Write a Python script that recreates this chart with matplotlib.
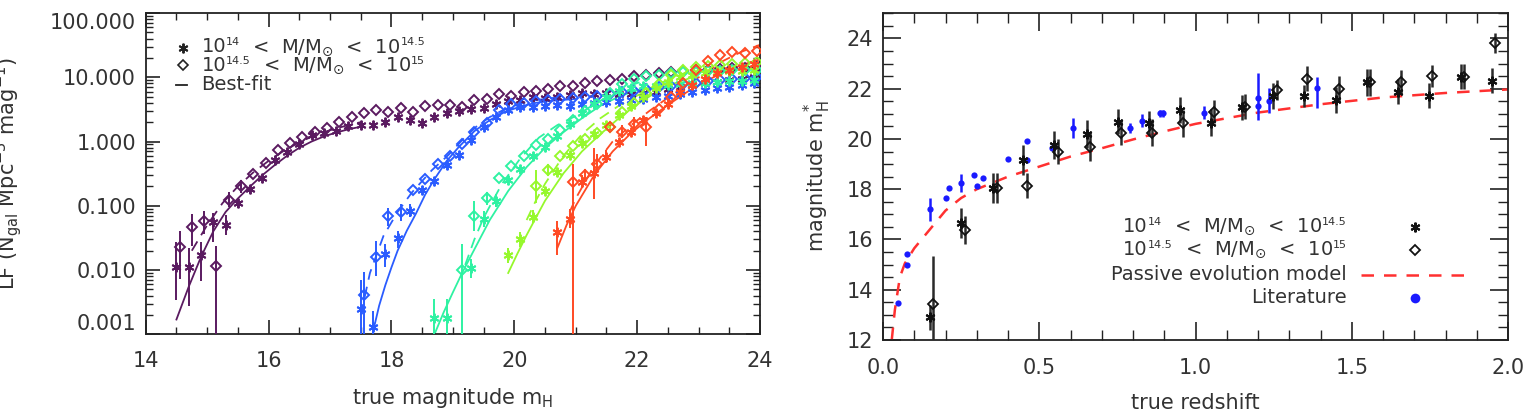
import numpy as np
import matplotlib.pyplot as plt
from matplotlib.ticker import MultipleLocator, FixedLocator, FixedFormatter
from matplotlib.offsetbox import TextArea, HPacker, AnnotationBbox

plt.rcParams['font.family'] = ['DejaVu Sans']
plt.rcParams['mathtext.fontset'] = 'dejavusans'

TXT = '#333333'

# ---------------- left panel: luminosity functions ----------------
# colours of the five redshift bins
PURPLE, BLUE, CYAN, GREEN, RED = '#5a1a60', '#2a5cff', '#2ef2a2', '#96f82c', '#ff4a24'

# purple bin
P_AST_M = [14.5, 14.7, 14.9, 15.1, 15.3, 15.5, 15.7, 15.9, 16.1, 16.3, 16.5, 16.7, 16.9, 17.1, 17.3, 17.5,
           17.7, 17.9, 18.1, 18.3, 18.5, 18.7, 18.9, 19.1, 19.3, 19.5, 19.7, 19.9, 20.1, 20.3, 20.5, 20.7,
           20.9, 21.1, 21.3, 21.5, 21.7, 21.9, 22.1, 22.3, 22.5, 22.7, 22.9, 23.1, 23.3, 23.5, 23.7, 23.9]
P_AST_V = [0.011, 0.011, 0.017, 0.055, 0.050, 0.11, 0.18, 0.27, 0.52, 0.68, 0.90, 1.25, 1.35, 1.45, 1.75, 1.8,
           1.8, 2.0, 2.4, 2.2, 1.95, 2.4, 2.8, 3.0, 3.2, 3.3, 3.9, 4.3, 4.5, 5.0, 4.8, 5.0,
           5.3, 5.6, 5.4, 5.6, 5.5, 5.4, 5.7, 6.0, 6.5, 7.0, 7.5, 8.0, 8.5, 9.0, 9.5, 10.0]
P_AST_ELO = [0.5, 0.6, 0.4, 0.3, 0.15, 0.08, 0.06]
P_AST_EHI = [0.4, 0.3, 0.2, 0.15, 0.15, 0.08, 0.06]
P_DIA_M = [14.55, 14.75, 14.95, 15.15, 15.35, 15.55, 15.75, 15.95, 16.15, 16.35, 16.55, 16.75, 16.95, 17.15,
           17.35, 17.55, 17.75, 17.95, 18.15, 18.35, 18.55, 18.75, 18.95, 19.15, 19.35, 19.55, 19.75, 19.95,
           20.15, 20.35, 20.55, 20.75, 20.95, 21.15, 21.35, 21.55, 21.75, 21.95, 22.15, 22.35, 22.55, 22.75,
           22.95, 23.15, 23.35, 23.55, 23.75, 23.95]
P_DIA_V = [0.023, 0.047, 0.058, 0.0115, 0.125, 0.2, 0.31, 0.46, 0.75, 0.95, 1.16, 1.41, 1.6, 2.0,
           2.4, 2.75, 3.05, 2.9, 3.35, 2.9, 3.6, 3.7, 3.7, 3.5, 4.5, 4.6, 5.5, 5.1,
           5.9, 6.2, 6.6, 7.2, 7.3, 8.1, 8.9, 9.2, 9.5, 10.3, 10.7, 11.5, 12.0, 12.5,
           13.0, 13.0, 13.5, 14.0, 14.0, 14.5]
P_DIA_ELO = [0.5, 0.3, 0.2, 3.0, 0.12, 0.1]
P_DIA_EHI = [0.25, 0.2, 0.15, 0.32, 0.12, 0.1]
P_FIT_M = [14.5, 14.7, 14.9, 15.1, 15.3, 15.5, 15.7, 15.9, 16.1, 16.3, 16.5, 16.7, 16.9, 17.1, 17.3, 17.5]
P_FIT_V = [0.0017, 0.0055, 0.016, 0.04, 0.08, 0.13, 0.2, 0.3, 0.43, 0.6, 0.8, 1.0, 1.2, 1.38, 1.55, 1.7]
P_DFIT_M = [14.75, 15.0, 15.25, 15.5, 15.75, 16.0, 16.25, 16.5, 16.75, 17.0, 17.25, 17.5]
P_DFIT_V = [0.02, 0.05, 0.11, 0.2, 0.33, 0.5, 0.72, 0.97, 1.25, 1.5, 1.75, 2.0]

# blue bin
B_AST_M = [17.5, 17.7, 17.9, 18.1, 18.3, 18.5, 18.7, 18.9, 19.1, 19.3, 19.5, 19.7, 19.9, 20.1, 20.3, 20.5, 20.7,
           20.9, 21.1, 21.3, 21.5, 21.7, 21.9, 22.1, 22.3, 22.5, 22.7, 22.9, 23.1, 23.3, 23.5, 23.7, 23.9]
B_AST_V = [0.0025, 0.0013, 0.018, 0.031, 0.084, 0.175, 0.24, 0.43, 0.61, 1.05, 1.7, 2.4, 3.1, 3.4, 3.5, 3.6, 3.7,
           3.6, 3.8, 4.0, 4.1, 4.2, 4.4, 4.6, 4.9, 5.2, 5.5, 5.9, 6.3, 6.7, 7.1, 7.5, 8.0]
B_AST_ELO = [3.0, 3.0, 0.2, 0.15, 0.1]
B_AST_EHI = [0.45, 0.25, 0.15, 0.12, 0.1]
B_DIA_M = [17.55, 17.75, 17.95, 18.15, 18.35, 18.55, 18.75, 18.95, 19.15, 19.35, 19.55, 19.75, 19.95, 20.15,
           20.35, 20.55, 20.75, 20.95, 21.15, 21.35, 21.55, 21.75, 21.95, 22.15, 22.35, 22.55, 22.75, 22.95,
           23.15, 23.35, 23.55, 23.75, 23.95]
B_DIA_V = [0.0041, 0.016, 0.069, 0.081, 0.175, 0.26, 0.44, 0.6, 0.9, 1.4, 1.95, 3.1, 3.9, 4.0,
           4.3, 4.5, 4.6, 4.7, 4.9, 5.1, 5.5, 5.8, 6.1, 6.5, 7.0, 7.4, 7.8, 8.2,
           8.6, 9.0, 9.3, 9.6, 10.0]
B_DIA_ELO = [3.0, 0.3, 0.15, 0.15]
B_DIA_EHI = [0.35, 0.25, 0.12, 0.12]
B_FIT_M = [17.7, 17.8, 17.9, 18.0, 18.1, 18.25, 18.4, 18.55, 18.7, 18.9, 19.1, 19.35, 19.6, 19.85, 20.1, 20.35,
           20.6, 21.0]
B_FIT_V = [0.0011, 0.0028, 0.0058, 0.011, 0.02, 0.041, 0.076, 0.15, 0.26, 0.5, 0.83, 1.45, 2.15, 2.9, 3.5, 4.0,
           4.3, 4.6]
B_DFIT_M = [17.5, 17.65, 17.87, 18.1, 18.33, 18.66, 18.93, 19.15, 19.38, 19.6, 19.82, 20.1, 20.35, 20.8]
B_DFIT_V = [0.002, 0.009, 0.034, 0.08, 0.16, 0.36, 0.62, 1.05, 1.7, 2.4, 3.1, 3.9, 4.4, 5.0]

# cyan bin
C_AST_M = [18.7, 18.9, 19.3, 19.5, 19.7, 19.9, 20.1, 20.3, 20.5, 20.7, 20.9, 21.1, 21.3, 21.5, 21.7, 21.9,
           22.1, 22.3, 22.5, 22.7, 22.9, 23.1, 23.3, 23.5, 23.7, 23.9]
C_AST_V = [0.0018, 0.0018, 0.0106, 0.062, 0.12, 0.25, 0.38, 0.6, 0.82, 1.2, 1.9, 2.8, 3.8, 5.0, 6.2, 6.8,
           7.2, 7.4, 7.6, 7.8, 8.0, 8.2, 8.4, 8.6, 8.9, 9.2]
C_AST_ELO = [3.0, 3.0, 0.15, 0.12, 0.1]
C_AST_EHI = [0.3, 0.3, 0.15, 0.12, 0.1]
C_DIA_M = [19.15, 19.35, 19.55, 19.75, 19.95, 20.15, 20.35, 20.55, 20.75, 20.95, 21.15, 21.35, 21.55, 21.75,
           21.95, 22.15, 22.35, 22.55, 22.75, 22.95, 23.15, 23.35, 23.55, 23.75, 23.95]
C_DIA_V = [0.010, 0.07, 0.13, 0.27, 0.41, 0.59, 0.87, 1.1, 1.5, 2.2, 3.0, 3.8, 5.6, 7.9,
           9.5, 10.5, 11.0, 11.5, 12.0, 12.0, 12.3, 12.5, 12.8, 13.0, 13.0]
C_DIA_ELO = [3.0, 0.23, 0.1]
C_DIA_EHI = [0.4, 0.23, 0.1]
C_FIT_M = [18.7, 18.85, 19.0, 19.15, 19.3, 19.45, 19.6, 19.9, 20.2, 20.5, 20.8, 21.1, 21.4, 21.7, 22.0, 22.3]
C_FIT_V = [0.001, 0.0022, 0.0045, 0.009, 0.017, 0.032, 0.06, 0.17, 0.4, 0.8, 1.4, 2.3, 3.6, 5.0, 6.3, 7.0]
C_DFIT_M = [19.2, 19.35, 19.5, 19.65, 19.8, 20.1, 20.4, 20.7, 21.0, 21.3, 21.6, 21.9, 22.2]
C_DFIT_V = [0.012, 0.03, 0.065, 0.12, 0.22, 0.55, 1.15, 1.8, 2.5, 3.8, 5.5, 7.5, 9.5]

# green bin
G_AST_M = [19.9, 20.1, 20.3, 20.5, 20.7, 20.9, 21.1, 21.3, 21.5, 21.7, 21.9, 22.1, 22.3, 22.5, 22.7, 22.9,
           23.1, 23.3, 23.5, 23.7, 23.9]
G_AST_V = [0.017, 0.030, 0.068, 0.17, 0.33, 0.62, 0.95, 1.3, 1.8, 2.6, 3.6, 5.0, 6.8, 8.5, 10.0, 11.0,
           11.5, 12.0, 12.3, 12.6, 13.0]
G_AST_ELO = [0.12, 0.12, 0.1]
G_AST_EHI = [0.12, 0.12, 0.1]
G_DIA_M = [20.35, 20.55, 20.75, 20.95, 21.15, 21.35, 21.55, 21.75, 21.95, 22.15, 22.35, 22.55, 22.75, 22.95,
           23.15, 23.35, 23.55, 23.75, 23.95]
G_DIA_V = [0.2, 0.36, 0.59, 0.85, 1.1, 1.35, 1.7, 2.9, 4.0, 5.6, 7.9, 11.0, 13.0, 14.5,
           15.0, 15.5, 16.0, 16.5, 17.0]
G_DIA_ELO = [0.25, 0.1]
G_DIA_EHI = [0.25, 0.1]
G_FIT_M = [19.9, 20.05, 20.2, 20.35, 20.5, 20.8, 21.1, 21.4, 21.7, 22.0, 22.3, 22.6, 22.9]
G_FIT_V = [0.009, 0.018, 0.035, 0.065, 0.12, 0.32, 0.7, 1.3, 2.3, 3.8, 5.8, 8.0, 10.0]
G_DFIT_M = [20.2, 20.35, 20.5, 20.8, 21.1, 21.4, 21.7, 22.0, 22.3, 22.6, 22.9]
G_DFIT_V = [0.06, 0.12, 0.22, 0.6, 1.3, 2.3, 3.6, 5.2, 7.5, 10.0, 13.0]

# red bin
R_AST_M = [20.7, 20.9, 21.1, 21.3, 21.5, 21.7, 21.9, 22.1, 22.3, 22.5, 22.7, 22.9, 23.1, 23.3, 23.5, 23.7, 23.9]
R_AST_V = [0.039, 0.063, 0.236, 0.32, 0.58, 1.0, 1.43, 2.15, 2.75, 3.9, 5.9, 7.5, 9.5, 11.5, 13.0, 14.5, 16.0]
R_AST_ELO = [0.36, 0.15, 0.1, 0.4, 0.1]
R_AST_EHI = [0.18, 0.15, 0.1, 0.4, 0.1]
R_DIA_M = [20.95, 21.15, 21.35, 21.55, 21.75, 21.95, 22.15, 22.35, 22.55, 22.75, 22.95, 23.15, 23.35, 23.55,
           23.75, 23.95]
R_DIA_V = [0.236, 0.30, 0.45, 1.7, 1.43, 1.9, 1.7, 3.2, 5.0, 8.0, 13.0, 18.0, 22.0, 25.0, 24.0, 26.0]
R_DIA_ELO = [3.0, 0.1, 0.15, 0.05, 0.1, 0.1, 0.3]
R_DIA_EHI = [0.28, 0.1, 0.15, 0.05, 0.1, 0.1, 0.15]
R_FIT_M = [20.7, 20.85, 21.0, 21.3, 21.6, 21.9, 22.2, 22.5, 22.8, 23.1, 23.4, 23.7, 24.0]
R_FIT_V = [0.022, 0.05, 0.1, 0.3, 0.7, 1.35, 2.3, 3.7, 5.8, 8.5, 12.0, 15.5, 19.0]
R_DFIT_M = [20.9, 21.0, 21.3, 21.6, 21.9, 22.2, 22.5, 22.8, 23.1, 23.4, 23.7, 24.0]
R_DFIT_V = [0.08, 0.13, 0.42, 1.0, 1.8, 3.0, 4.8, 7.5, 11.5, 18.0, 25.0, 32.0]

LF_YTICKS = [0.001, 0.01, 0.1, 1.0, 10.0, 100.0]
LF_YLABELS = ['0.001', '0.010', '0.100', '1.000', '10.000', '100.000']

# ---------------- right panel: m* versus redshift ----------------
LOW_Z = [0.150, 0.250, 0.353, 0.449, 0.547, 0.652, 0.751, 0.850, 0.950, 1.050, 1.150, 1.249, 1.348, 1.449,
         1.548, 1.649, 1.748, 1.849, 1.948]
LOW_M = [12.90, 16.64, 18.04, 19.16, 19.76, 20.20, 20.69, 20.62, 21.15, 20.65, 21.26, 21.71, 21.71, 21.55,
         22.25, 21.88, 21.72, 22.48, 22.31]
LOW_E = [0.5, 0.6, 0.6, 0.6, 0.55, 0.55, 0.5, 0.5, 0.5, 0.55, 0.5, 0.5, 0.45, 0.5, 0.55, 0.5, 0.5, 0.5, 0.5]
HIGH_Z = [0.161, 0.262, 0.364, 0.460, 0.561, 0.662, 0.761, 0.861, 0.959, 1.059, 1.158, 1.260, 1.358, 1.459,
          1.558, 1.657, 1.758, 1.859, 1.958]
HIGH_M = [13.43, 16.38, 18.04, 18.14, 19.49, 19.69, 20.25, 20.25, 20.62, 21.08, 21.28, 21.95, 22.39, 21.99,
          22.25, 22.28, 22.50, 22.48, 23.83]
HIGH_E = [1.9, 0.55, 0.6, 0.5, 0.5, 0.55, 0.5, 0.55, 0.55, 0.45, 0.5, 0.4, 0.5, 0.5, 0.55, 0.45, 0.45, 0.5, 0.4]
LIT_Z = [0.049, 0.076, 0.076, 0.150, 0.200, 0.211, 0.250, 0.290, 0.300, 0.321, 0.399, 0.460, 0.460, 0.542,
         0.607, 0.790, 0.830, 0.887, 0.897, 1.028, 1.199, 1.199, 1.235, 1.388]
LIT_M = [13.46, 15.41, 14.98, 17.20, 17.66, 18.04, 18.24, 18.58, 18.11, 18.43, 19.21, 19.93, 19.16, 19.63,
         20.44, 20.44, 20.73, 21.02, 21.02, 21.05, 21.62, 21.31, 21.52, 22.02]
LIT_ELO = [0, 0, 0, 0.45, 0, 0, 0.35, 0, 0, 0, 0, 0, 0, 0,
           0.4, 0.2, 0.27, 0.15, 0.15, 0.25, 0.86, 0, 0.5, 0.8]
LIT_EHI = [0, 0, 0, 0.45, 0, 0, 0.35, 0, 0, 0, 0, 0, 0, 0,
           0.4, 0.2, 0.27, 0.15, 0.15, 0.25, 1.0, 0, 0.5, 0.46]
MODEL_Z = [0.028, 0.038, 0.054, 0.07, 0.1, 0.15, 0.2, 0.25, 0.3, 0.4, 0.5, 0.6, 0.7, 0.8, 0.9, 1.0,
           1.2, 1.4, 1.6, 1.8, 2.0]
MODEL_M = [12.0, 13.2, 14.5, 15.05, 15.65, 16.4, 17.15, 17.65, 18.0, 18.5, 18.9, 19.3, 19.63, 19.98, 20.3, 20.6,
           21.05, 21.38, 21.65, 21.83, 21.97]

AST = (6, 2, 0)   # IDL-like asterisk
LEG_FS, EXP_FS = 14, 8


def draw_points(ax, mags, vals, elo, ehi, color, marker, ms, mfc):
    mags = np.asarray(mags)
    vals = np.asarray(vals)
    n = len(elo)
    lo = vals[:n] * (1 - 10 ** -np.asarray(elo))
    hi = vals[:n] * (10 ** np.asarray(ehi) - 1)
    ax.errorbar(mags[:n], vals[:n], yerr=[lo, hi], fmt='none', ecolor=color, elinewidth=1.4,
                capsize=0, zorder=3)
    ax.plot(mags, vals, linestyle='none', marker=marker, ms=ms, mew=1.4, mec=color, mfc=mfc, zorder=4)


def style_axes(ax):
    for s in ax.spines.values():
        s.set_linewidth(1.3)
        s.set_color('#222222')
    ax.tick_params(which='both', direction='in', top=True, right=True, colors='#222222',
                   labelcolor=TXT, labelsize=15)
    ax.tick_params(which='major', length=10, width=1.2)
    ax.tick_params(which='minor', length=5, width=1.0)


def mass_label(ax, x, y, lo_exp, hi_exp, right=False):
    # IDL-style label with small exponents sitting at the top of the "10"
    parts = [('10', LEG_FS), (lo_exp, EXP_FS), ('  <  M/M$_{\\odot}$  <  10', LEG_FS), (hi_exp, EXP_FS)]
    kids = [TextArea(t, textprops=dict(fontsize=s, color=TXT)) for t, s in parts]
    box = HPacker(children=kids, align='top', pad=0, sep=0)
    ab = AnnotationBbox(box, (x, y), xycoords=ax.transAxes, box_alignment=(1.0 if right else 0.0, 0.5),
                        frameon=False, pad=0)
    ax.add_artist(ab)


fig = plt.figure(figsize=(15.29, 4.18), dpi=100)
ax1 = fig.add_axes([0.0953, 0.2002, 0.4018, 0.7687])
ax2 = fig.add_axes([0.5775, 0.1866, 0.4088, 0.7816])

groups = [
    (PURPLE, P_AST_M, P_AST_V, P_AST_ELO, P_AST_EHI, P_DIA_M, P_DIA_V, P_DIA_ELO, P_DIA_EHI,
     P_FIT_M, P_FIT_V, P_DFIT_M, P_DFIT_V),
    (BLUE, B_AST_M, B_AST_V, B_AST_ELO, B_AST_EHI, B_DIA_M, B_DIA_V, B_DIA_ELO, B_DIA_EHI,
     B_FIT_M, B_FIT_V, B_DFIT_M, B_DFIT_V),
    (CYAN, C_AST_M, C_AST_V, C_AST_ELO, C_AST_EHI, C_DIA_M, C_DIA_V, C_DIA_ELO, C_DIA_EHI,
     C_FIT_M, C_FIT_V, C_DFIT_M, C_DFIT_V),
    (GREEN, G_AST_M, G_AST_V, G_AST_ELO, G_AST_EHI, G_DIA_M, G_DIA_V, G_DIA_ELO, G_DIA_EHI,
     G_FIT_M, G_FIT_V, G_DFIT_M, G_DFIT_V),
    (RED, R_AST_M, R_AST_V, R_AST_ELO, R_AST_EHI, R_DIA_M, R_DIA_V, R_DIA_ELO, R_DIA_EHI,
     R_FIT_M, R_FIT_V, R_DFIT_M, R_DFIT_V),
]

for (col, am, av, aelo, aehi, dm, dv, delo, dehi, fm, fv, dfm, dfv) in groups:
    ax1.plot(fm, fv, color=col, lw=1.3, zorder=2)
    ax1.plot(dfm, dfv, color=col, lw=1.3, dashes=(6, 4), zorder=2)
    draw_points(ax1, dm, dv, delo, dehi, col, 'D', 5.5, 'none')
    draw_points(ax1, am, av, aelo, aehi, col, AST, 7, col)

ax1.set_yscale('log')
ax1.set_xlim(14, 24)
ax1.set_ylim(0.001, 100)
ax1.xaxis.set_major_locator(MultipleLocator(2))
ax1.xaxis.set_minor_locator(MultipleLocator(0.5))
ax1.yaxis.set_major_locator(FixedLocator(LF_YTICKS))
ax1.yaxis.set_major_formatter(FixedFormatter(LF_YLABELS))
style_axes(ax1)
ax1.tick_params(axis='x', pad=12)
ax1.tick_params(axis='y', pad=7)
ylabs = ax1.get_yticklabels()
ylabs[0].set_va('bottom')
ylabs[-1].set_va('top')
ax1.set_xlabel(r'true magnitude m$_{\rm H}$', fontsize=15, color=TXT, labelpad=11)
fig.text(0.0052, 0.585, r'LF (N$_{\rm gal}$ Mpc$^{-3}$ mag$^{-1}$)', rotation=90, ha='center', va='center',
         fontsize=15, color=TXT)

# legend of the left panel
tr = ax1.transAxes
ax1.plot([0.060], [0.892], marker=AST, ms=7, mew=1.4, color='#222222', transform=tr, clip_on=False)
ax1.plot([0.060], [0.838], marker='D', ms=5.5, mew=1.2, mfc='none', mec='#222222', transform=tr, clip_on=False)
ax1.plot([0.050, 0.068], [0.776, 0.776], color='#222222', lw=1.3, transform=tr)
mass_label(ax1, 0.091, 0.892, '14', '14.5')
mass_label(ax1, 0.091, 0.835, '14.5', '15')
ax1.text(0.091, 0.776, 'Best-fit', transform=tr, va='center', fontsize=LEG_FS, color=TXT)

# ---------------- right panel ----------------
ax2.plot(MODEL_Z, MODEL_M, color='#ff3030', lw=1.8, dashes=(5, 4), zorder=2)
ax2.errorbar(LIT_Z, LIT_M, yerr=[LIT_ELO, LIT_EHI], fmt='o', color='#1a1aff', ms=4.5, mew=0,
             elinewidth=1.8, capsize=0, zorder=3)
ax2.errorbar(LOW_Z, LOW_M, yerr=LOW_E, fmt='none', ecolor='#2a2a2a', elinewidth=1.8, capsize=0, zorder=4)
ax2.errorbar(HIGH_Z, HIGH_M, yerr=HIGH_E, fmt='none', ecolor='#2a2a2a', elinewidth=1.8, capsize=0, zorder=4)
ax2.plot(LOW_Z, LOW_M, linestyle='none', marker=AST, ms=7, mew=1.5, color='#111111', zorder=5)
ax2.plot(HIGH_Z, HIGH_M, linestyle='none', marker='D', ms=5.5, mew=1.3, mfc='none', mec='#111111', zorder=5)

ax2.set_xlim(0, 2)
ax2.set_ylim(12, 25)
ax2.xaxis.set_major_locator(MultipleLocator(0.5))
ax2.xaxis.set_minor_locator(MultipleLocator(0.1))
ax2.yaxis.set_major_locator(MultipleLocator(2))
ax2.yaxis.set_minor_locator(MultipleLocator(0.5))
ax2.xaxis.set_major_formatter(plt.FuncFormatter(lambda v, p: f'{v:.1f}'))
style_axes(ax2)
ax2.tick_params(which='major', length=13)
ax2.tick_params(which='minor', length=7)
ax2.tick_params(axis='x', pad=13)
ax2.tick_params(axis='y', pad=7)
ax2.get_yticklabels()[0].set_va('bottom')
ax2.set_xlabel('true redshift', fontsize=15, color=TXT, labelpad=11)
ax2.set_ylabel(r'magnitude m$^{*}_{\rm H}$', fontsize=15, color=TXT, labelpad=10)

tr2 = ax2.transAxes
rows = [0.346, 0.275, 0.199, 0.129]
mass_label(ax2, 0.742, rows[0], '14', '14.5', right=True)
mass_label(ax2, 0.742, rows[1], '14.5', '15', right=True)
ax2.text(0.742, rows[2], 'Passive evolution model', transform=tr2, ha='right', va='center',
         fontsize=LEG_FS, color=TXT)
ax2.text(0.742, rows[3], 'Literature', transform=tr2, ha='right', va='center', fontsize=LEG_FS, color=TXT)
ax2.plot([0.851], [rows[0]], marker=AST, ms=7, mew=1.5, color='#111111', transform=tr2)
ax2.plot([0.851], [rows[1]], marker='D', ms=5.5, mew=1.3, mfc='none', mec='#111111', transform=tr2)
ax2.plot([0.765, 0.931], [rows[2], rows[2]], color='#ff3030', lw=1.8, dashes=(5, 4), transform=tr2)
ax2.plot([0.851], [rows[3]], marker='o', ms=7, mew=0, color='#1a1aff', transform=tr2)

fig.savefig('out.png', dpi=100, facecolor='white')
